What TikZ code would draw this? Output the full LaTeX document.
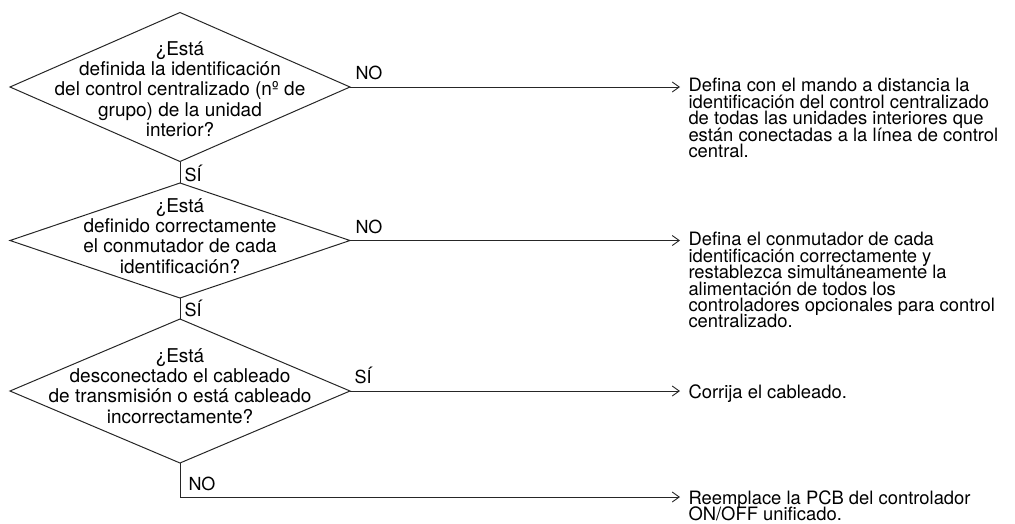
\documentclass[tikz,border=0pt]{standalone}
\usepackage{fontspec}
\setmainfont{TeX Gyre Heros}
\usetikzlibrary{shapes.geometric,arrows.meta}
\lineskiplimit=-50pt
\lineskip=0pt
\begin{document}
\begin{tikzpicture}[x=1pt,y=-1pt,
  line width=1pt, draw=black!85,
  decision/.style={diamond, draw, inner sep=0pt, outer sep=0pt},
  question/.style={align=center, inner sep=0pt,
    font=\fontsize{19}{20.3}\selectfont},
  answer/.style={anchor=base west, inner sep=0pt,
    font=\fontsize{18}{18}\selectfont},
  action/.style={anchor=north west, align=left, inner sep=0pt,
    font=\fontsize{18.4}{16.4}\selectfont},
  flow/.style={-{Straight Barb[length=7pt,width=10pt,line width=0.9pt]}},
]
\useasboundingbox (0,0) rectangle (1015,523);

% decision diamonds
\node[decision, minimum width=340pt, minimum height=149pt] (d1) at (180,87) {};
\node[decision, minimum width=340pt, minimum height=115pt] (d2) at (180,240.5) {};
\node[decision, minimum width=340pt, minimum height=144pt] (d3) at (180,391) {};

\node[question] (q1) at (180,89) {¿Está\\definida la identificación\\del control centralizado (nº de\\grupo) de la unidad\\interior?};
\node[question] (q2) at (180,236) {¿Está\\definido correctamente\\el conmutador de cada\\identificación?};
\node[question] (q3) at (180,386) {¿Está\\desconectado el cableado\\de transmisión o está cableado\\incorrectamente?};

% ends of the arrows
\coordinate (e1) at (680,87);
\coordinate (e2) at (680,240.5);
\coordinate (e3) at (680,391);
\coordinate (c4) at (180,497);
\coordinate (e4) at (680,497);

% remedies
\node[action] (r1) at (688,78) {Defina con el mando a distancia la\\identificación del control centralizado\\de todas las unidades interiores que\\están conectadas a la línea de control\\central.};
\node[action] (r2) at (688,232) {Defina el conmutador de cada\\identificación correctamente y\\restablezca simultáneamente la\\alimentación de todos los\\controladores opcionales para control\\centralizado.};
\node[action] (r3) at (688,384) {Corrija el cableado.};
\node[action] (r4) at (688,490) {Reemplace la PCB del controlador\\ON/OFF unificado.};

% connectors
\draw (d1.south) -- (d2.north);
\draw (d2.south) -- (d3.north);
\draw[flow] (d1.east) -- (e1);
\draw[flow] (d2.east) -- (e2);
\draw[flow] (d3.east) -- (e3);
\draw[flow] (d3.south) -- (c4) -- (e4);

% answer labels
\node[answer] (n1) at (355,79) {NO};
\node[answer] (n2) at (355,233) {NO};
\node[answer] (s3) at (354,383) {SÍ};
\node[answer] (s1) at (184,181) {SÍ};
\node[answer] (s2) at (184,316) {SÍ};
\node[answer] (n4) at (188,490) {NO};
\end{tikzpicture}
\end{document}
